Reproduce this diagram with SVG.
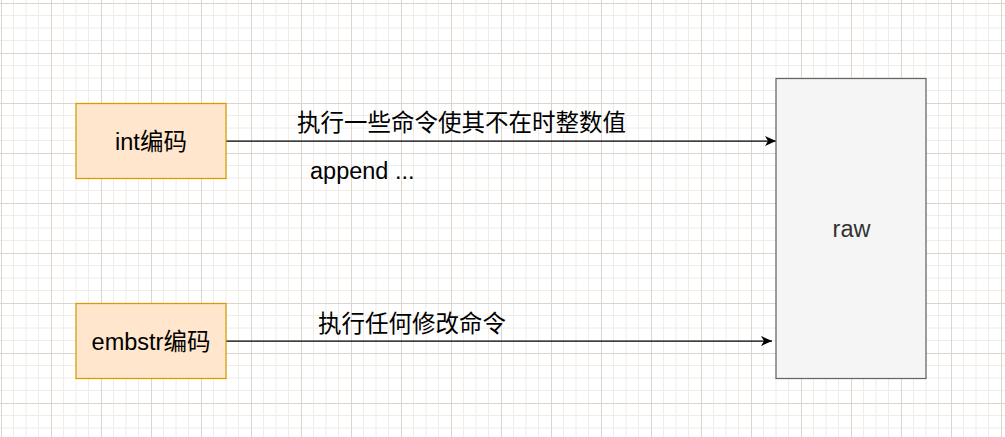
<svg xmlns="http://www.w3.org/2000/svg" width="1005" height="437" viewBox="0 0 1005 437">
  <defs>
    <pattern id="grid" patternUnits="userSpaceOnUse" x="1" y="3" width="50" height="50">
      <path d="M12.5 0V50M25 0V50M37.5 0V50M0 12.5H50M0 25H50M0 37.5H50" stroke="#f0ece7" stroke-width="1" fill="none"/>
      <path d="M0.5 0V50M0 0.5H50" stroke="#ddd5cd" stroke-width="1" fill="none"/>
    </pattern>
    <marker id="arrow" markerUnits="userSpaceOnUse" markerWidth="14" markerHeight="12" refX="11" refY="5" orient="auto">
      <path d="M0 0L11 5L0 10L3 5Z" fill="#000"/>
    </marker>
  </defs>
  <style>
    .t { font-family: "Liberation Sans", "Noto Sans CJK SC", sans-serif; font-size: 23.5px; fill: #000; }
    .box { fill: #ffe6cc; stroke: #d79b00; stroke-width: 1.25; }
    .raw { fill: #f5f5f5; stroke: #666666; stroke-width: 1.25; }
    .edge { stroke: #000; stroke-width: 1.25; fill: none; }
  </style>
  <rect x="0" y="0" width="1005" height="437" fill="#ffffff"/>
  <rect x="0" y="0" width="1005" height="437" fill="url(#grid)"/>

  <g id="connectors">
    <path class="edge" d="M226 141H776" marker-end="url(#arrow)"/>
    <path class="edge" d="M226 341H772" marker-end="url(#arrow)"/>
    <text class="t" x="297" y="131">执行一些命令使其不在时整数值</text>
    <text class="t" x="310" y="179">append ...</text>
    <text class="t" x="318" y="332">执行任何修改命令</text>
  </g>

  <g id="node-int">
    <rect class="box" x="76" y="103.5" width="150" height="75"/>
    <text class="t" x="151" y="150" text-anchor="middle">int编码</text>
  </g>

  <g id="node-embstr">
    <rect class="box" x="76" y="303.5" width="150" height="75"/>
    <text class="t" x="151" y="350" text-anchor="middle">embstr编码</text>
  </g>

  <g id="node-raw">
    <rect class="raw" x="776" y="78.5" width="150" height="300"/>
    <text class="t" x="851.5" y="237" text-anchor="middle" style="fill:#333333">raw</text>
  </g>
</svg>
